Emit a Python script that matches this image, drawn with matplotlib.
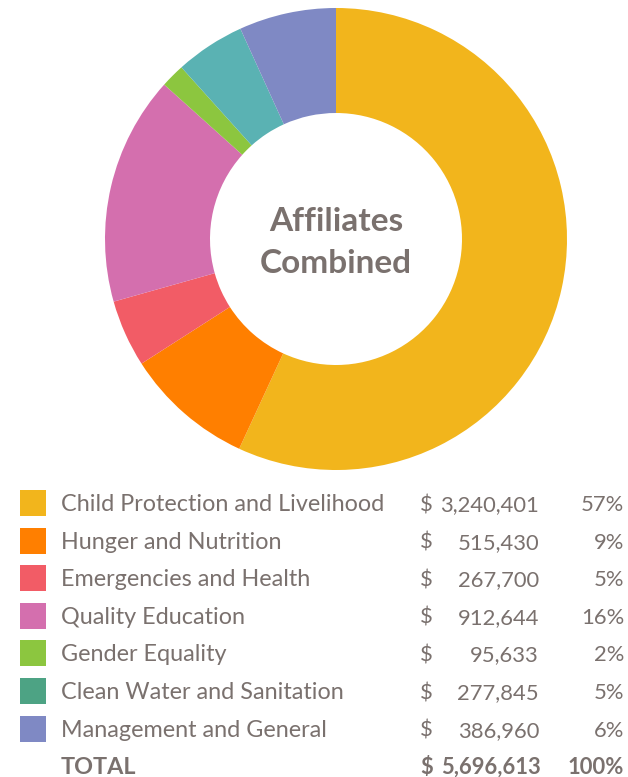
import matplotlib
matplotlib.use("Agg")
import matplotlib.pyplot as plt
from matplotlib.patches import Rectangle

categories = ["Child Protection and Livelihood", "Hunger and Nutrition",
              "Emergencies and Health", "Quality Education", "Gender Equality",
              "Clean Water and Sanitation", "Management and General"]
amounts = [3240401, 515430, 267700, 912644, 95633, 277845, 386960]
amount_labels = ["3,240,401", "515,430", "267,700", "912,644", "95,633", "277,845", "386,960"]
pct_labels = ["57%", "9%", "5%", "16%", "2%", "5%", "6%"]
total_label = "5,696,613"
total_pct = "100%"
title_lines = ["Affiliates", "Combined"]

wedge_colors = ["#f2b51c", "#ff7f00", "#f25c66", "#d46fae", "#8cc63f", "#5ab2b3", "#7f89c4"]
legend_colors = ["#f2b51c", "#ff7f00", "#f25c66", "#d46fae", "#8cc63f", "#4da384", "#7f89c4"]
text_color = "#7a716e"

W, H = 628, 777
fig = plt.figure(figsize=(W / 100, H / 100), dpi=100)

# donut
cx, cy, R, r_in = 336, 239, 231, 126
ax = fig.add_axes([(cx - R) / W, (H - cy - R) / H, 2 * R / W, 2 * R / H])
ax.pie(amounts, colors=wedge_colors, startangle=90, counterclock=False,
       radius=1.0, wedgeprops=dict(width=1 - r_in / R, linewidth=0))
ax.set_xlim(-1, 1)
ax.set_ylim(-1, 1)
ax.set_aspect("equal")
ax.axis("off")
ax.text(0, 0.077, title_lines[0], ha="center", va="center", fontsize=24,
        fontweight="bold", color=text_color, family="Lato")
ax.text(0, -0.107, title_lines[1], ha="center", va="center", fontsize=24,
        fontweight="bold", color=text_color, family="Lato")

# legend table
lx = fig.add_axes([0, 0, 1, 1])
lx.set_xlim(0, W)
lx.set_ylim(H, 0)
lx.axis("off")
fs = 16.8
fn = 15.8
y0, dy = 503, 37.6
for i, cat in enumerate(categories):
    y = y0 + i * dy
    yb = y + 8
    lx.add_patch(Rectangle((20, y - 13), 26, 26, color=legend_colors[i], lw=0))
    lx.text(61, yb, cat, va="baseline", ha="left", fontsize=fs, color=text_color,
            family="Lato")
    lx.text(420, yb, "$", va="baseline", ha="left", fontsize=fn, color=text_color,
            family="Lato")
    lx.text(539, yb, amount_labels[i], va="baseline", ha="right", fontsize=fn,
            color=text_color, family="Lato")
    lx.text(624, yb, pct_labels[i], va="baseline", ha="right", fontsize=fn,
            color=text_color, family="Lato")
yt = y0 + 7 * dy + 8
lx.text(61, yt, "TOTAL", va="baseline", ha="left", fontsize=fs, color=text_color,
        family="Lato", fontweight="bold")
lx.text(420, yt, "$", va="baseline", ha="left", fontsize=fn, color=text_color,
        family="Lato", fontweight="bold")
lx.text(541, yt, total_label, va="baseline", ha="right", fontsize=fn,
        color=text_color, family="Lato", fontweight="bold")
lx.text(624, yt, total_pct, va="baseline", ha="right", fontsize=fn,
        color=text_color, family="Lato", fontweight="bold")

fig.savefig("out.png", dpi=100)
